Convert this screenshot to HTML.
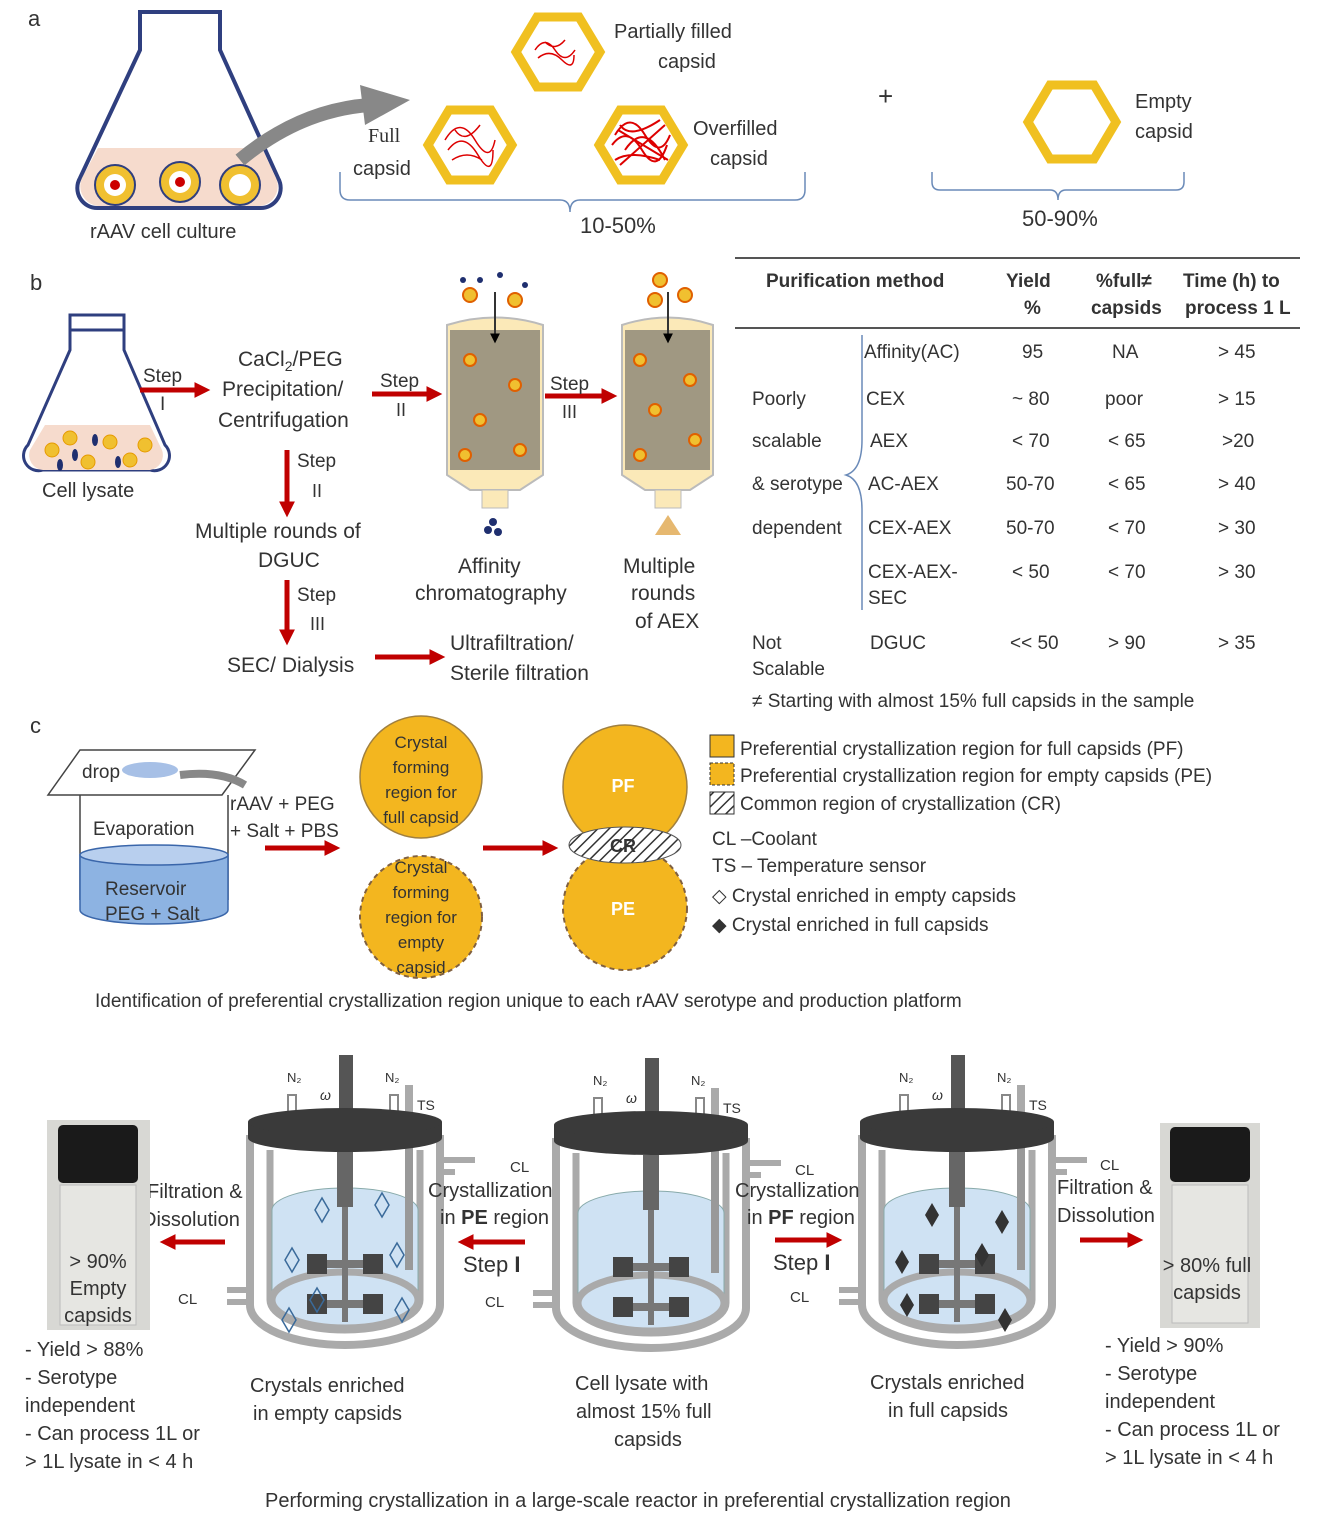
<!DOCTYPE html>
<html><head><meta charset="utf-8"><style>
body{margin:0;background:#fff}
svg{display:block;font-family:"Liberation Sans",sans-serif}
text{fill:#333}
</style></head><body>
<svg width="1327" height="1539" viewBox="0 0 1327 1539" xmlns="http://www.w3.org/2000/svg">
<defs>
<marker id="ar" viewBox="0 0 6 6" markerWidth="3.2" markerHeight="3.2" refX="4" refY="3" orient="auto"><path d="M0,0L6,3L0,6z" fill="#c00000"/></marker>
<marker id="ak" viewBox="0 0 6 6" markerWidth="5" markerHeight="5" refX="4" refY="3" orient="auto"><path d="M0,0L6,3L0,6z" fill="#000"/></marker>
<pattern id="hatch" width="8" height="8" patternUnits="userSpaceOnUse" patternTransform="rotate(45)"><rect width="8" height="8" fill="#fff"/><line x1="0" y1="0" x2="0" y2="8" stroke="#333" stroke-width="3"/></pattern>
<g id="reactor">
 <rect x="-6" y="-85" width="14" height="60" fill="#555"/>
 <rect x="-57" y="-45" width="8" height="25" fill="#fff" stroke="#888" stroke-width="2"/>
 <rect x="45" y="-45" width="8" height="25" fill="#fff" stroke="#888" stroke-width="2"/>
 <rect x="60" y="-55" width="8" height="40" fill="#aaa"/>
 <path d="M-95,-5 V165 A95,40 0 0 0 95,165 V-5" fill="none" stroke="#aaa" stroke-width="8"/>
 <path d="M-75,10 V160 A75,30 0 0 0 75,160 V10" fill="none" stroke="#aaa" stroke-width="7"/>
 <path d="M-73,70 A73,22 0 0 1 73,70 V160 A73,30 0 0 1 -73,160Z" fill="#cfe2f3" stroke="#8aa" stroke-width="1"/>
 <ellipse cx="0" cy="160" rx="73" ry="28" fill="none" stroke="#aaa" stroke-width="7"/>
 <rect x="60" y="-10" width="8" height="140" fill="#999"/>
 <ellipse cx="0" cy="-2" rx="97" ry="14" fill="#3a3a3a"/>
 <rect x="-97" y="-18" width="194" height="16" fill="#3a3a3a"/>
 <ellipse cx="0" cy="-18" rx="97" ry="14" fill="#3a3a3a"/>
 <rect x="-8" y="12" width="16" height="55" fill="#666"/>
 <rect x="-3" y="67" width="6" height="115" fill="#777"/>
 <rect x="-35" y="120" width="70" height="8" fill="#777"/>
 <rect x="-35" y="160" width="70" height="8" fill="#777"/>
 <rect x="-38" y="114" width="20" height="20" fill="#444"/><rect x="18" y="114" width="20" height="20" fill="#444"/>
 <rect x="-38" y="154" width="20" height="20" fill="#444"/><rect x="18" y="154" width="20" height="20" fill="#444"/>
 <path d="M95,20 H130 M95,32 H110" stroke="#aaa" stroke-width="6" fill="none"/>
 <path d="M-95,150 H-118 M-95,162 H-118" stroke="#aaa" stroke-width="6" fill="none"/>
 <text x="-58" y="-58" font-size="13">N₂</text><text x="40" y="-58" font-size="13">N₂</text>
 <text x="72" y="-30" font-size="14">TS</text>
 <text x="-25" y="-40" font-size="14" font-style="italic">ω</text>
</g>
</defs>

<!-- Panel a -->
<text x="28" y="26" font-size="22">a</text>
<path d="M140,12 H220 V50 L278,178 A20,20 0 0 1 260,208 H98 A20,20 0 0 1 80,178 L140,50Z" fill="none" stroke="#2f3f7f" stroke-width="4"/>
<path d="M98,148 H262 L276,178 A20,20 0 0 1 260,206 H98 A20,20 0 0 1 82,178Z" fill="#f6dbcd"/>
<g fill="#f0c030" stroke="#2f3f7f" stroke-width="2">
<circle cx="115" cy="185" r="20"/><circle cx="180" cy="182" r="20"/><circle cx="240" cy="185" r="20"/></g>
<g fill="#fff"><circle cx="115" cy="185" r="11"/><circle cx="180" cy="182" r="11"/><circle cx="240" cy="185" r="11"/></g>
<circle cx="115" cy="185" r="5" fill="#c00"/><circle cx="180" cy="182" r="5" fill="#c00"/>
<text x="90" y="238" font-size="20">rAAV  cell culture</text>
<path d="M240,160 Q300,110 370,105" stroke="#888" stroke-width="14" fill="none"/>
<path d="M360,85 L410,100 L365,125Z" fill="#888"/>
<g fill="#fff" stroke="#f0c020" stroke-width="9">
<polygon points="516,52 537,17 579,17 600,52 579,87 537,87"/>
<polygon points="428,145 449,110 491,110 512,145 491,180 449,180"/>
<polygon points="599,145 620,110 662,110 683,145 662,180 620,180"/>
<polygon points="1028,122 1050,85 1094,85 1116,122 1094,159 1050,159"/>
</g>
<g stroke="#d00" stroke-width="1.5" fill="none">
<path d="M535,50 q10,-15 20,0 t20,0 M538,58 q12,-10 24,2 t12,-5 M545,42 q10,10 20,-2"/>
<path d="M445,140 q15,-25 30,0 t20,0 M448,150 q15,-20 30,5 t15,-5 M455,130 q10,15 25,-5 M452,160 q15,-10 30,0"/>
</g>
<g stroke="#d00" stroke-width="2" fill="none">
<path d="M615,135 q15,-25 30,0 t25,0 M612,145 q15,-20 30,5 t25,-5 M620,125 q10,15 40,-5 M615,160 q15,-10 45,0 M625,150 q20,-30 40,10 M618,130 l50,30 M620,165 l45,-40"/>
</g>
<text x="614" y="38" font-size="20">Partially filled</text><text x="658" y="68" font-size="20">capsid</text>
<text x="368" y="142" font-size="20" font-family="Liberation Serif">Full</text><text x="353" y="175" font-size="20">capsid</text>
<text x="693" y="135" font-size="20">Overfilled</text><text x="710" y="165" font-size="20">capsid</text>
<text x="1135" y="108" font-size="20">Empty</text><text x="1135" y="138" font-size="20">capsid</text>
<text x="878" y="105" font-size="26">+</text>
<path d="M340,172 V190 Q340,200 350,200 H560 Q570,200 570,212 Q570,200 580,200 H795 Q805,200 805,190 V172" fill="none" stroke="#6a8ab8" stroke-width="1.5"/>
<text x="580" y="233" font-size="22">10-50%</text>
<path d="M932,172 V182 Q932,190 940,190 H1050 Q1058,190 1058,200 Q1058,190 1066,190 H1176 Q1184,190 1184,182 V172" fill="none" stroke="#6a8ab8" stroke-width="1.5"/>
<text x="1022" y="226" font-size="22">50-90%</text>

<!-- Panel b -->
<text x="30" y="290" font-size="22">b</text>
<path d="M70,315 H124 V350 L165,445 A15,15 0 0 1 150,470 H43 A15,15 0 0 1 28,445 L70,350Z" fill="none" stroke="#2f3f7f" stroke-width="3"/>
<path d="M70,330 H124" stroke="#2f3f7f" stroke-width="3"/>
<path d="M45,425 H150 L162,450 A15,15 0 0 1 150,470 H43 A15,15 0 0 1 30,450Z" fill="#f6dbcd"/>
<g fill="#f0c030" stroke="#e69a00"><circle cx="52" cy="450" r="7"/><circle cx="88" cy="462" r="7"/><circle cx="110" cy="442" r="7"/><circle cx="130" cy="460" r="7"/><circle cx="70" cy="438" r="7"/><circle cx="145" cy="445" r="7"/></g>
<g fill="#1f2f6f"><ellipse cx="60" cy="465" rx="3" ry="6"/><ellipse cx="95" cy="440" rx="3" ry="6"/><ellipse cx="118" cy="462" rx="3" ry="6"/><ellipse cx="75" cy="455" rx="3" ry="6"/></g>
<text x="42" y="497" font-size="20">Cell lysate</text>
<line x1="140" y1="390" x2="205" y2="390" stroke="#c00000" stroke-width="5" marker-end="url(#ar)"/>
<text x="143" y="382" font-size="19">Step</text><text x="160" y="410" font-size="19">I</text>
<text x="238" y="366" font-size="21">CaCl<tspan font-size="14" dy="5">2</tspan><tspan dy="-5">/PEG</tspan></text>
<text x="222" y="396" font-size="21">Precipitation/</text>
<text x="218" y="427" font-size="21">Centrifugation</text>
<line x1="372" y1="394" x2="437" y2="394" stroke="#c00000" stroke-width="5" marker-end="url(#ar)"/>
<text x="380" y="387" font-size="19">Step</text><text x="396" y="416" font-size="18">II</text>
<line x1="287" y1="450" x2="287" y2="512" stroke="#c00000" stroke-width="5" marker-end="url(#ar)"/>
<text x="297" y="467" font-size="19">Step</text><text x="312" y="497" font-size="18">II</text>
<text x="195" y="538" font-size="21">Multiple rounds  of</text>
<text x="258" y="567" font-size="21">DGUC</text>
<line x1="287" y1="580" x2="287" y2="640" stroke="#c00000" stroke-width="5" marker-end="url(#ar)"/>
<text x="297" y="601" font-size="19">Step</text><text x="310" y="630" font-size="18">III</text>
<text x="227" y="672" font-size="21">SEC/ Dialysis</text>
<line x1="375" y1="657" x2="440" y2="657" stroke="#c00000" stroke-width="5" marker-end="url(#ar)"/>
<text x="450" y="650" font-size="21">Ultrafiltration/</text>
<text x="450" y="680" font-size="21">Sterile filtration</text>
<!-- columns -->
<g>
<path d="M447,325 Q495,310 543,325 V475 L520,490 H470 L447,475Z" fill="#fbe9b8" stroke="#bbb" stroke-width="2"/>
<rect x="450" y="330" width="90" height="140" fill="#555" opacity="0.55"/>
<rect x="482" y="490" width="26" height="18" fill="#fbe9b8" stroke="#bbb"/>
<line x1="495" y1="292" x2="495" y2="340" stroke="#333" stroke-width="2" marker-end="url(#ak)"/>
<path d="M622,325 Q668,310 713,325 V475 L690,490 H645 L622,475Z" fill="#fbe9b8" stroke="#bbb" stroke-width="2"/>
<rect x="625" y="330" width="85" height="140" fill="#555" opacity="0.55"/>
<rect x="655" y="490" width="26" height="18" fill="#fbe9b8" stroke="#bbb"/>
<line x1="668" y1="292" x2="668" y2="340" stroke="#333" stroke-width="2" marker-end="url(#ak)"/>
<g fill="#f0c030" stroke="#e06000" stroke-width="2"><circle cx="470" cy="360" r="6"/><circle cx="515" cy="385" r="6"/><circle cx="480" cy="420" r="6"/><circle cx="520" cy="450" r="6"/><circle cx="465" cy="455" r="6"/><circle cx="640" cy="360" r="6"/><circle cx="690" cy="380" r="6"/><circle cx="655" cy="410" r="6"/><circle cx="695" cy="440" r="6"/><circle cx="640" cy="455" r="6"/>
<circle cx="470" cy="295" r="7"/><circle cx="515" cy="300" r="7"/><circle cx="660" cy="280" r="7"/><circle cx="685" cy="295" r="7"/><circle cx="655" cy="300" r="7"/></g>
<g fill="#1f2f6f"><circle cx="480" cy="280" r="3"/><circle cx="500" cy="275" r="3"/><circle cx="525" cy="285" r="3"/><circle cx="463" cy="280" r="3"/><circle cx="488" cy="530" r="4"/><circle cx="498" cy="532" r="4"/><circle cx="493" cy="522" r="4"/></g>
<path d="M655,535 L668,515 L681,535Z" fill="#e6b870"/>
</g>
<line x1="545" y1="396" x2="612" y2="396" stroke="#c00000" stroke-width="5" marker-end="url(#ar)"/>
<text x="550" y="390" font-size="19">Step</text><text x="562" y="418" font-size="18">III</text>
<text x="458" y="573" font-size="21">Affinity</text><text x="415" y="600" font-size="21">chromatography</text>
<text x="623" y="573" font-size="21">Multiple</text><text x="631" y="600" font-size="21">rounds</text><text x="635" y="628" font-size="21">of AEX</text>
<!-- table -->
<line x1="735" y1="258" x2="1300" y2="258" stroke="#555" stroke-width="2"/>
<line x1="735" y1="328" x2="1300" y2="328" stroke="#555" stroke-width="2"/>
<g font-size="19" font-weight="bold">
<text x="766" y="287">Purification method</text>
<text x="1006" y="287">Yield</text><text x="1024" y="314">%</text>
<text x="1096" y="287">%full≠</text><text x="1091" y="314">capsids</text>
<text x="1183" y="287">Time (h) to</text><text x="1185" y="314">process 1 L</text>
</g>
<path d="M862,335 V440 Q862,470 846,475 Q862,480 862,510 V610" fill="none" stroke="#6a8ab8" stroke-width="1.5"/>
<g font-size="19">
<text x="752" y="405">Poorly</text><text x="752" y="447">scalable</text><text x="752" y="490">&amp; serotype</text><text x="752" y="534">dependent</text>
<text x="752" y="649">Not</text><text x="752" y="675">Scalable</text>
<text x="864" y="358">Affinity(AC)</text><text x="866" y="405">CEX</text><text x="870" y="447">AEX</text><text x="868" y="490">AC-AEX</text><text x="868" y="534">CEX-AEX</text><text x="868" y="578">CEX-AEX-</text><text x="868" y="604">SEC</text><text x="870" y="649">DGUC</text>
<text x="1022" y="358">95</text><text x="1012" y="405">~ 80</text><text x="1012" y="447">&lt; 70</text><text x="1006" y="490">50-70</text><text x="1006" y="534">50-70</text><text x="1012" y="578">&lt; 50</text><text x="1010" y="649">&lt;&lt; 50</text>
<text x="1112" y="358">NA</text><text x="1105" y="405">poor</text><text x="1108" y="447">&lt; 65</text><text x="1108" y="490">&lt; 65</text><text x="1108" y="534">&lt; 70</text><text x="1108" y="578">&lt; 70</text><text x="1108" y="649">&gt; 90</text>
<text x="1218" y="358">&gt; 45</text><text x="1218" y="405">&gt; 15</text><text x="1222" y="447">&gt;20</text><text x="1218" y="490">&gt; 40</text><text x="1218" y="534">&gt; 30</text><text x="1218" y="578">&gt; 30</text><text x="1218" y="649">&gt; 35</text>
<text x="752" y="707">≠ Starting with almost 15% full capsids in the sample</text>
</g>

<!-- Panel c -->
<text x="30" y="733" font-size="22">c</text>
<path d="M80,750 H255 L222,795 H48Z" fill="none" stroke="#444" stroke-width="1.5"/>
<ellipse cx="150" cy="770" rx="28" ry="8" fill="#a7c0e6"/>
<text x="82" y="778" font-size="19">drop</text>
<path d="M180,775 Q220,770 245,785" stroke="#888" stroke-width="8" fill="none"/>
<path d="M80,795 V900 M228,795 V900" stroke="#444" stroke-width="1.5"/>
<path d="M80,855 H228 V910 A74,14 0 0 1 80,910Z" fill="#8db3e2" stroke="#3a66aa" stroke-width="1.5"/>
<ellipse cx="154" cy="855" rx="74" ry="10" fill="#b8cfee" stroke="#3a66aa" stroke-width="1.5"/>
<text x="93" y="835" font-size="19">Evaporation</text>
<text x="105" y="895" font-size="19">Reservoir</text><text x="105" y="920" font-size="19">PEG + Salt</text>
<text x="230" y="810" font-size="19">rAAV + PEG</text><text x="230" y="837" font-size="19">+ Salt + PBS</text>
<line x1="265" y1="848" x2="335" y2="848" stroke="#c00000" stroke-width="5" marker-end="url(#ar)"/>
<circle cx="421" cy="777" r="61" fill="#f3b61f" stroke="#a08040" stroke-width="1.5"/>
<circle cx="421" cy="917" r="61" fill="#f3b61f" stroke="#806040" stroke-width="2" stroke-dasharray="5,4"/>
<g font-size="17" text-anchor="middle"><text x="421" y="748">Crystal</text><text x="421" y="773">forming</text><text x="421" y="798">region for</text><text x="421" y="823">full capsid</text>
<text x="421" y="873">Crystal</text><text x="421" y="898">forming</text><text x="421" y="923">region for</text><text x="421" y="948">empty</text><text x="421" y="973">capsid</text></g>
<line x1="483" y1="848" x2="553" y2="848" stroke="#c00000" stroke-width="5" marker-end="url(#ar)"/>
<circle cx="625" cy="908" r="62" fill="#f3b61f" stroke="#806040" stroke-width="2" stroke-dasharray="5,4"/>
<circle cx="625" cy="787" r="62" fill="#f3b61f" stroke="#a08040" stroke-width="1.5"/>
<ellipse cx="625" cy="845" rx="56" ry="18" fill="url(#hatch)" stroke="#555"/>
<g font-size="18" font-weight="bold" text-anchor="middle"><text x="623" y="792" style="fill:#fff">PF</text><text x="623" y="852">CR</text><text x="623" y="915" style="fill:#fff">PE</text></g>
<rect x="710" y="735" width="24" height="22" fill="#f3b61f" stroke="#333"/>
<rect x="710" y="763" width="24" height="22" fill="#f3b61f" stroke="#333" stroke-dasharray="3,2"/>
<rect x="710" y="792" width="24" height="22" fill="url(#hatch)" stroke="#333"/>
<g font-size="19">
<text x="740" y="755">Preferential crystallization region for full capsids (PF)</text>
<text x="740" y="782">Preferential crystallization region for empty capsids (PE)</text>
<text x="740" y="810">Common region of crystallization (CR)</text>
<text x="712" y="845">CL –Coolant</text>
<text x="712" y="872">TS – Temperature sensor</text>
<text x="712" y="902">◇ Crystal enriched in empty capsids</text>
<text x="712" y="931">◆ Crystal enriched in full capsids</text>
<text x="95" y="1007">Identification of preferential crystallization region unique to each rAAV serotype and  production platform</text>
</g>

<!-- reactors -->
<use href="#reactor" x="345" y="1140"/>
<use href="#reactor" x="651" y="1143"/>
<use href="#reactor" x="957" y="1140"/>
<g fill="none" stroke="#3a6a9a" stroke-width="1.5">
<path d="M315,1210 l7,-12 7,12 -7,12z M375,1205 l7,-12 7,12 -7,12z M285,1260 l7,-12 7,12 -7,12z M390,1255 l7,-12 7,12 -7,12z M310,1300 l7,-12 7,12 -7,12z M395,1310 l7,-12 7,12 -7,12z M282,1320 l7,-12 7,12 -7,12z"/></g>
<g fill="#333">
<path d="M925,1215 l7,-12 7,12 -7,12z M995,1222 l7,-12 7,12 -7,12z M895,1262 l7,-12 7,12 -7,12z M975,1255 l7,-12 7,12 -7,12z M900,1305 l7,-12 7,12 -7,12z M998,1320 l7,-12 7,12 -7,12z"/></g>
<g font-size="15"><text x="510" y="1172">CL</text><text x="795" y="1175">CL</text><text x="1100" y="1170">CL</text>
<text x="178" y="1304">CL</text><text x="485" y="1307">CL</text><text x="790" y="1302">CL</text></g>
<g font-size="20">
<text x="428" y="1197">Crystallization</text><text x="440" y="1224">in <tspan font-weight="bold">PE</tspan> region</text>
<text x="735" y="1197">Crystallization</text><text x="747" y="1224">in <tspan font-weight="bold">PF</tspan> region</text>
<text x="463" y="1272" font-size="22">Step <tspan font-weight="bold">I</tspan></text>
<text x="773" y="1270" font-size="22">Step <tspan font-weight="bold">I</tspan></text>
<text x="147" y="1198">Filtration &amp;</text><text x="142" y="1226">Dissolution</text>
<text x="1057" y="1194">Filtration &amp;</text><text x="1057" y="1222">Dissolution</text>
<text x="250" y="1392">Crystals enriched</text><text x="253" y="1420">in empty capsids</text>
<text x="575" y="1390">Cell lysate with</text><text x="576" y="1418">almost 15% full</text><text x="614" y="1446">capsids</text>
<text x="870" y="1389">Crystals enriched</text><text x="888" y="1417">in full capsids</text>
<text x="25" y="1356">- Yield &gt; 88%</text><text x="25" y="1384">- Serotype</text><text x="25" y="1412">independent</text><text x="25" y="1440">- Can process 1L or</text><text x="25" y="1468">&gt;  1L lysate in &lt; 4 h</text>
<text x="1105" y="1352">- Yield &gt; 90%</text><text x="1105" y="1380">- Serotype</text><text x="1105" y="1408">independent</text><text x="1105" y="1436">- Can process 1L or</text><text x="1105" y="1464">&gt;  1L lysate in &lt; 4 h</text>
<text x="265" y="1507">Performing crystallization in a large-scale reactor in preferential crystallization region</text>
</g>
<line x1="525" y1="1242" x2="463" y2="1242" stroke="#c00000" stroke-width="5" marker-end="url(#ar)"/>
<line x1="775" y1="1240" x2="837" y2="1240" stroke="#c00000" stroke-width="5" marker-end="url(#ar)"/>
<line x1="225" y1="1242" x2="165" y2="1242" stroke="#c00000" stroke-width="5" marker-end="url(#ar)"/>
<line x1="1080" y1="1240" x2="1138" y2="1240" stroke="#c00000" stroke-width="5" marker-end="url(#ar)"/>
<!-- vials -->
<rect x="47" y="1120" width="103" height="210" fill="#d8d8d4"/>
<rect x="58" y="1125" width="80" height="58" rx="5" fill="#1a1a1a"/>
<rect x="60" y="1185" width="76" height="140" fill="#e6e6e2" stroke="#bbb"/>
<rect x="1160" y="1123" width="100" height="205" fill="#d8d8d4"/>
<rect x="1170" y="1127" width="80" height="55" rx="5" fill="#1a1a1a"/>
<rect x="1172" y="1185" width="76" height="138" fill="#e6e6e2" stroke="#bbb"/>
<g font-size="20" text-anchor="middle"><text x="98" y="1268">&gt; 90%</text><text x="98" y="1295">Empty</text><text x="98" y="1322">capsids</text>
<text x="1207" y="1272">&gt; 80% full</text><text x="1207" y="1299">capsids</text></g>
</svg>
</body></html>
